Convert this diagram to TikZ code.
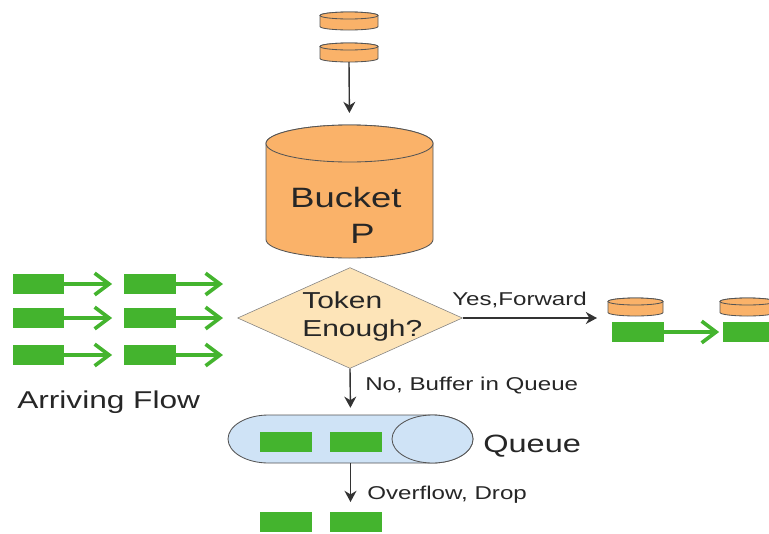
\documentclass[tikz,border=0pt]{standalone}
\usepackage{fontspec}
\setmainfont{Liberation Sans}
\usepackage{graphicx}
\usetikzlibrary{shapes.geometric,arrows.meta}

\definecolor{tokenorange}{RGB}{250,178,105}
\definecolor{askfill}{RGB}{253,228,184}
\definecolor{queueblue}{RGB}{207,227,246}
\definecolor{pktgreen}{RGB}{68,180,46}
\definecolor{edgegray}{RGB}{85,85,85}

\newcommand{\widetxt}[1]{\scalebox{1.3}[1]{#1}}

\tikzset{
  tokenbody/.style={draw=edgegray, fill=tokenorange, line width=0.6pt},
  queuebody/.style={draw=edgegray, fill=queueblue, line width=0.6pt},
  % upright cylinder: half width, half height, radius of the end ellipse
  pics/tokencyl/.style n args={3}{code={
    \path[tokenbody] (-#1,-#2+#3) -- (-#1,#2-#3)
      arc[start angle=180, end angle=0, x radius=#1, y radius=#3]
      -- (#1,-#2+#3)
      arc[start angle=0, end angle=-180, x radius=#1, y radius=#3] -- cycle;
    \path[tokenbody] (0,-#2+#3) ellipse[x radius=#1, y radius=#3];
    \coordinate (-top) at (0,-#2);
    \coordinate (-bottom) at (0,#2);
  }},
  % lying cylinder: half length, half height, radius of the end ellipse
  pics/queuecyl/.style n args={3}{code={
    \path[queuebody] (-#1+#3,-#2) -- (#1-#3,-#2)
      arc[start angle=-90, end angle=90, x radius=#3, y radius=#2]
      -- (-#1+#3,#2)
      arc[start angle=90, end angle=270, x radius=#3, y radius=#2] -- cycle;
    \path[queuebody] (#1-#3,0) ellipse[x radius=#3, y radius=#2];
    \coordinate (-top) at (0,-#2);
    \coordinate (-bottom) at (0,#2);
  }},
  ask/.style={diamond, draw=gray, fill=askfill, minimum width=5.62cm,
    minimum height=2.52cm, inner sep=0pt},
  pkt/.style={fill=pktgreen, minimum width=1.28cm, minimum height=0.5cm, inner sep=0pt},
  flow/.style={draw=pktgreen, line width=2.6pt, -{Straight Barb[length=3.6mm,width=5.4mm]}},
  link/.style={draw=black!80, line width=1pt, -{Stealth[length=2.8mm,width=3mm,inset=0.9mm]}},
  txt/.style={text=black!85, inner sep=0pt},
}

\begin{document}
\begin{tikzpicture}[x=0.025cm,y=-0.025cm]
\useasboundingbox (0,0) rectangle (769,533);

% token supply and bucket
\pic (tok1) at (349,21) {tokencyl={29}{9}{3.5}};
\pic (tok2) at (349,52.5) {tokencyl={29}{9.5}{3.5}};
\pic (bucket) at (349.5,191.5) {tokencyl={83.5}{66.5}{18.5}};
\node[txt, font=\fontsize{19.9}{24.9}\selectfont, align=left, anchor=base west] (bucketlbl) at (290,243)
  {\widetxt{Bucket}\\\hspace*{1.5cm}\widetxt{P}};
\draw[link, shorten >=0.3cm] (tok2-bottom) -- (bucket-top);

% decision
\node[ask] (ask) at (350,318) {};
\node[txt, font=\fontsize{16.4}{19.9}\selectfont, align=left, anchor=base west] (asklbl) at (302,336)
  {\widetxt{Token}\\\widetxt{Enough?}};

% arriving flow
\foreach \y [count=\i] in {284,318,355} {
  \node[pkt] (a\i) at (38.5,\y) {};
  \node[pkt] (b\i) at (150,\y) {};
  \coordinate (c\i) at (223,\y);
  \draw[flow, shorten >=0.3cm] (a\i.east) -- (b\i.west);
  \draw[flow] (b\i.east) -- (c\i);
}
\node[txt, font=\fontsize{17.3}{20}\selectfont, anchor=base west] (arrlbl) at (17,408) {\widetxt{Arriving Flow}};

% forward branch
\coordinate (fwd) at (597,318);
\draw[link] (ask.east) -- (fwd);
\node[txt, font=\fontsize{13.2}{16}\selectfont, anchor=base west] (yeslbl) at (452,305) {\widetxt{Yes,Forward}};
\pic (ftok1) at (635.5,307) {tokencyl={27.5}{9}{3.5}};
\node[pkt] (fpkt1) at (638,332) {};
\pic (ftok2) at (747.5,307) {tokencyl={27.5}{9}{3.5}};
\node[pkt] (fpkt2) at (749,332) {};
\draw[flow, shorten >=0.1cm] (fpkt1.east) -- (fpkt2.west);

% queue branch
\pic (queue) at (350.5,439) {queuecyl={122.5}{24}{40.5}};
\node[pkt] (q1) at (286,442) {};
\node[pkt] (q2) at (356,442) {};
\node[txt, font=\fontsize{17.8}{20}\selectfont, anchor=base west] (queuelbl) at (483,452) {\widetxt{Queue}};
\draw[link, shorten >=0.18cm] (ask.south) -- (queue-top);
\node[txt, font=\fontsize{13.2}{16}\selectfont, anchor=base west] (nolbl) at (365,390) {\widetxt{No, Buffer in Queue}};

% overflow
\coordinate (drop) at (350.5,502);
\draw[link] (queue-bottom) -- (drop);
\node[txt, font=\fontsize{13.2}{16}\selectfont, anchor=base west] (droplbl) at (367,499) {\widetxt{Overflow, Drop}};
\node[pkt] (d1) at (286,522) {};
\node[pkt] (d2) at (356,522) {};
\end{tikzpicture}
\end{document}
